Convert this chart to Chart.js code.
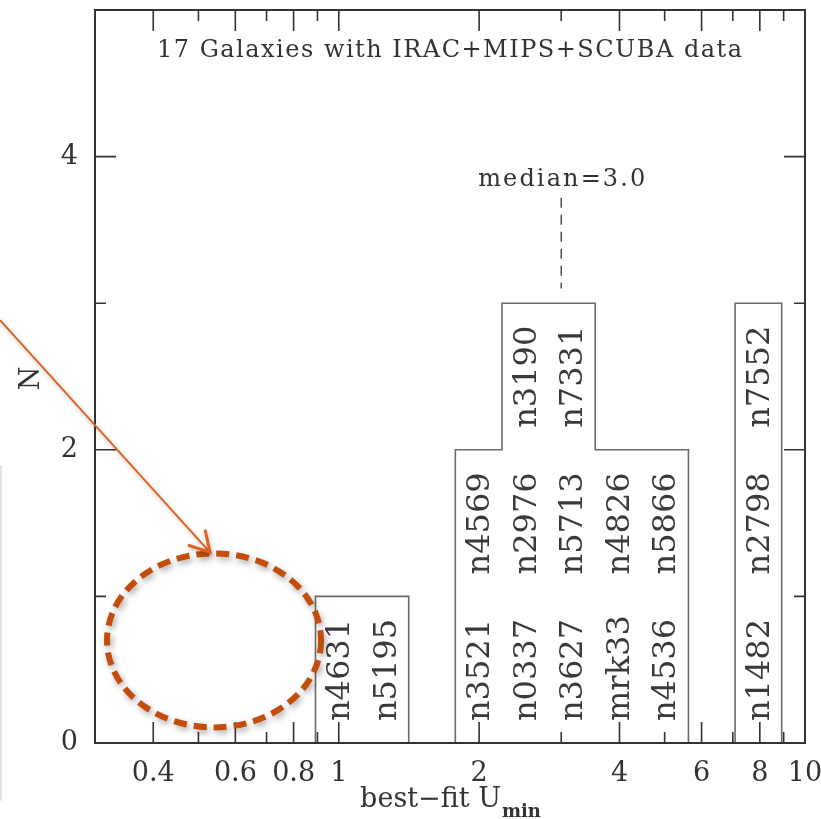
<!DOCTYPE html>
<html>
<head>
<meta charset="utf-8">
<title>best-fit Umin histogram</title>
<script src="https://cdn.jsdelivr.net/npm/chart.js@4.4.1/dist/chart.umd.min.js"></script>
<style>
  html, body { margin: 0; padding: 0; background: #fff; }
  #umin-chart { display: block; }
</style>
</head>
<body>
<canvas id="umin-chart" width="821" height="819"></canvas>
<script>
// log10(Umin) at the centre of each 0.1 dex bin that has galaxies in it
let binLogU = [0.0, 0.1, 0.3, 0.4, 0.5, 0.6, 0.7, 0.9]
let binCounts = [1, 1, 2, 3, 3, 2, 2, 3]
// Galaxy names stacked in each bin, bottom to top
let binGalaxies = [
    ['n4631'],
    ['n5195'],
    ['n3521', 'n4569'],
    ['n0337', 'n2976', 'n3190'],
    ['n3627', 'n5713', 'n7331'],
    ['mrk33', 'n4826'],
    ['n4536', 'n5866'],
    ['n1482', 'n2798', 'n7552'],
]
let binHalfWidth = 0.05 // dex
let medianU = 3.0

// Axis ticks
let xTickLabels = [0.4, 0.6, 0.8, 1, 2, 4, 6, 8, 10]
let xMinorTicks = [0.5, 0.7, 0.9, 3, 5, 7, 9]
let yTickLabels = [0, 2, 4]
let yMinorTicks = [1, 3]

let titleText = '17 Galaxies with IRAC+MIPS+SCUBA data'

let inkColor = '#333'
let barColor = '#6a6a6a'
let serif = "'DejaVu Serif', serif"

// Build the step outline of the histogram, breaking it where bins are empty
let outline = []
let prevHi = null
binLogU.forEach(function (c, i) {
    let lo = Math.pow(10, c - binHalfWidth)
    let hi = Math.pow(10, c + binHalfWidth)
    let joined = i > 0 && Math.abs(binLogU[i - 1] + 0.1 - c) < 1e-6
    if (!joined) {
        if (prevHi !== null) {
            outline.push({x: prevHi, y: 0})
            outline.push({x: prevHi, y: null}) // gap
        }
        outline.push({x: lo, y: 0})
    }
    outline.push({x: lo, y: binCounts[i]})
    outline.push({x: hi, y: binCounts[i]})
    prevHi = hi
})
outline.push({x: prevHi, y: 0})

// Draw text with extra letter spacing so it fills a given width
function spacedText(ctx, text, x, y, width) {
    ctx.letterSpacing = '0px'
    let w0 = ctx.measureText(text).width
    ctx.letterSpacing = ((width - w0) / (text.length - 1)) + 'px'
    ctx.fillText(text, x, y)
    ctx.letterSpacing = '0px'
}

// Frame, inward ticks, texts and the slide annotation
let decorPlugin = {
    id: 'decor',
    afterDraw: function (chart) {
        let ctx = chart.ctx
        let area = chart.chartArea
        let xs = chart.scales.x
        let ys = chart.scales.y
        ctx.save()

        // frame
        ctx.strokeStyle = inkColor
        ctx.lineWidth = 2
        ctx.strokeRect(area.left, area.top, area.right - area.left, area.bottom - area.top)

        // ticks pointing inwards on all four sides
        ctx.lineWidth = 1.6
        function xTick(v, len) {
            let px = xs.getPixelForValue(v)
            ctx.beginPath()
            ctx.moveTo(px, area.bottom); ctx.lineTo(px, area.bottom - len)
            ctx.moveTo(px, area.top); ctx.lineTo(px, area.top + len)
            ctx.stroke()
        }
        function yTick(v, len) {
            let py = ys.getPixelForValue(v)
            ctx.beginPath()
            ctx.moveTo(area.left, py); ctx.lineTo(area.left + len, py)
            ctx.moveTo(area.right, py); ctx.lineTo(area.right - len, py)
            ctx.stroke()
        }
        xTickLabels.forEach(function (v) { if (v < 10) xTick(v, 21) })
        xMinorTicks.forEach(function (v) { xTick(v, 11) })
        yTickLabels.forEach(function (v) { if (v > 0) yTick(v, 21) })
        yMinorTicks.forEach(function (v) { yTick(v, 11) })

        ctx.fillStyle = inkColor

        // title inside the plot
        ctx.font = '24px ' + serif
        ctx.textBaseline = 'alphabetic'
        ctx.textAlign = 'left'
        spacedText(ctx, titleText, 157, ys.getPixelForValue(4.68), 585)

        // median marker
        let mx = xs.getPixelForValue(medianU)
        spacedText(ctx, 'median=' + medianU.toFixed(1), mx - 83, ys.getPixelForValue(3.8), 167)
        ctx.strokeStyle = inkColor
        ctx.lineWidth = 1.3
        ctx.setLineDash([10, 7])
        ctx.beginPath()
        ctx.moveTo(mx, ys.getPixelForValue(3.72))
        ctx.lineTo(mx, ys.getPixelForValue(3.1))
        ctx.stroke()
        ctx.setLineDash([])

        // galaxy names, rotated, one per count in each bin
        ctx.font = '32px ' + serif
        ctx.fillStyle = '#3a3a3a'
        ctx.textAlign = 'left'
        ctx.textBaseline = 'middle'
        binLogU.forEach(function (c, i) {
            let px = xs.getPixelForValue(Math.pow(10, c))
            binGalaxies[i].forEach(function (name, k) {
                let py = ys.getPixelForValue(k + 0.15)
                ctx.save()
                ctx.translate(px + 2, py)
                ctx.rotate(-Math.PI / 2)
                ctx.fillText(name, 0, 0)
                ctx.restore()
            })
        })

        // axis titles
        ctx.fillStyle = inkColor
        ctx.font = '27px ' + serif
        ctx.textAlign = 'center'
        ctx.save()
        ctx.translate(32, (area.top + area.bottom) / 2 + 2)
        ctx.rotate(-Math.PI / 2)
        ctx.fillText('N', 0, 0)
        ctx.restore()

        let mainText = 'best\u2212fit U'
        ctx.textAlign = 'left'
        ctx.textBaseline = 'alphabetic'
        ctx.font = '27px ' + serif
        let w1 = ctx.measureText(mainText).width
        ctx.font = 'bold 18px ' + serif
        let w2 = ctx.measureText('min').width
        let startX = (area.left + area.right) / 2 - (w1 + w2) / 2
        ctx.font = '27px ' + serif
        ctx.fillText(mainText, startX, 807)
        ctx.font = 'bold 18px ' + serif
        ctx.fillText('min', startX + w1 + 1, 817)

        // orange ellipse and arrow pasted on top of the figure
        let ex = xs.getPixelForValue(0.54)
        let ey = ys.getPixelForValue(0.7)
        let rx = 107
        let ry = 87
        ctx.shadowColor = 'rgba(0,0,0,0.35)'
        ctx.shadowBlur = 6
        ctx.shadowOffsetX = 2
        ctx.shadowOffsetY = 3
        ctx.strokeStyle = '#c24d0c'
        ctx.lineWidth = 6
        ctx.setLineDash([13, 7])
        ctx.beginPath()
        ctx.ellipse(ex, ey, rx, ry, 0, 0, Math.PI * 2)
        ctx.stroke()
        ctx.setLineDash([])

        let tipX = ex - 4
        let tipY = ey - ry - 1
        let ang = Math.atan2(229, 207)
        let startY = tipY - Math.tan(ang) * tipX
        ctx.shadowBlur = 4
        ctx.shadowOffsetX = 1
        ctx.shadowOffsetY = 2
        ctx.shadowColor = 'rgba(0,0,0,0.25)'
        ctx.strokeStyle = '#e0621f'
        ctx.lineWidth = 2
        ctx.beginPath()
        ctx.moveTo(0, startY)
        ctx.lineTo(tipX, tipY)
        ctx.stroke()
        ctx.lineWidth = 3
        ctx.lineCap = 'round'
        ctx.beginPath()
        let back = ang + Math.PI
        ctx.moveTo(tipX + 22 * Math.cos(back - 0.52), tipY + 22 * Math.sin(back - 0.52))
        ctx.lineTo(tipX, tipY)
        ctx.lineTo(tipX + 22 * Math.cos(back + 0.52), tipY + 22 * Math.sin(back + 0.52))
        ctx.stroke()

        // faint edge of a neighbouring slide object
        ctx.shadowColor = 'transparent'
        ctx.strokeStyle = '#e2e2e2'
        ctx.lineWidth = 2
        ctx.beginPath()
        ctx.moveTo(1, 466); ctx.lineTo(1, 800)
        ctx.stroke()

        ctx.restore()
    }
}

let canvas = document.querySelector('#umin-chart')
let cxt = canvas.getContext('2d')

let chart = new Chart(cxt, {
    type: 'line',
    data: {
        datasets: [{
            label: 'N',
            data: outline,
            borderColor: barColor,
            borderWidth: 1.6,
            pointRadius: 0,
            fill: false,
            tension: 0,
            spanGaps: false
        }]
    },
    options: {
        responsive: false,
        animation: false,
        devicePixelRatio: 1,
        layout: {padding: {top: 10, right: 16, left: 0, bottom: 0}},
        plugins: {
            legend: {display: false},
            tooltip: {enabled: false}
        },
        scales: {
            x: {
                type: 'logarithmic',
                min: 0.3,
                max: 10,
                grid: {display: false, drawTicks: false},
                border: {display: false},
                afterBuildTicks: function (axis) {
                    axis.ticks = xTickLabels.map(function (v) { return {value: v} })
                },
                afterFit: function (axis) {
                    axis.height = 76
                    axis.paddingLeft = 0
                    axis.paddingRight = 0
                },
                ticks: {
                    autoSkip: false,
                    maxRotation: 0,
                    padding: 15,
                    color: inkColor,
                    font: {family: serif, size: 27},
                    callback: function (v) { return String(v) }
                }
            },
            y: {
                min: 0,
                max: 5,
                grid: {display: false, drawTicks: false},
                border: {display: false},
                afterBuildTicks: function (axis) {
                    axis.ticks = yTickLabels.map(function (v) { return {value: v} })
                },
                afterFit: function (axis) {
                    axis.width = 95
                    axis.paddingTop = 0
                    axis.paddingBottom = 0
                },
                ticks: {
                    padding: 17,
                    color: inkColor,
                    font: {family: serif, size: 27},
                    callback: function (v) { return String(v) }
                }
            }
        }
    },
    plugins: [decorPlugin]
})
</script>
</body>
</html>
